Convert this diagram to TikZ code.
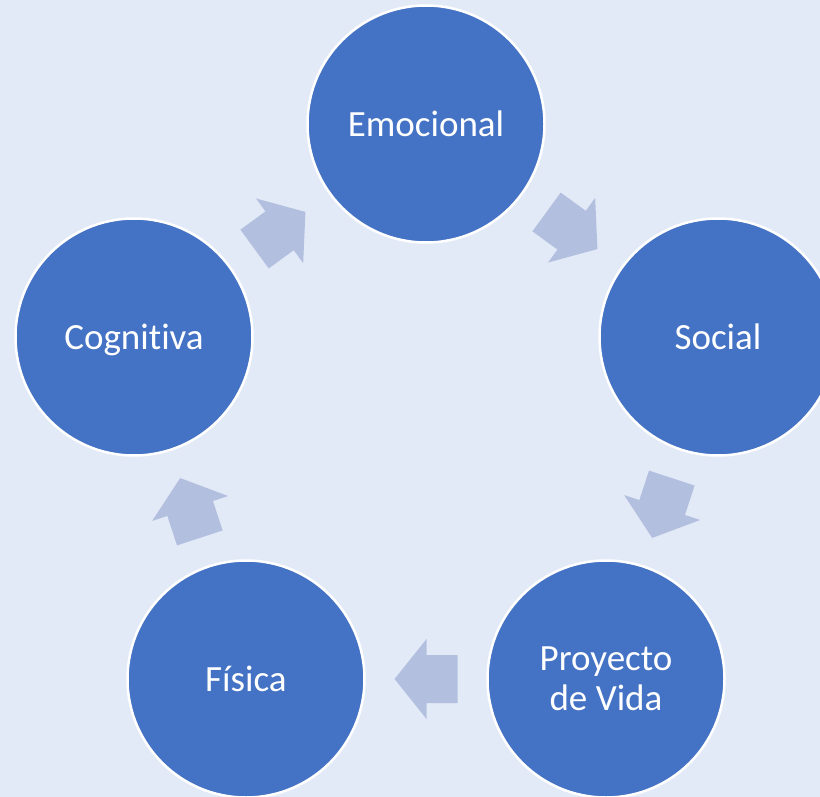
\documentclass[tikz,border=0pt]{standalone}
\usepackage{fontspec}
\setmainfont{Carlito}[Ligatures={NoCommon,NoContextual}, Contextuals=NoAlternate]
\definecolor{fondo}{RGB}{227,234,247}
\definecolor{azul}{RGB}{68,114,196}
\definecolor{flechaazul}{RGB}{178,191,223}
\begin{document}
\begin{tikzpicture}[x=1pt, y=-1pt,
                    area/.style={circle, draw=white, line width=2.5pt, fill=azul, minimum size=237pt, inner sep=0pt,
                                 text=white, font=\fontsize{37}{40}\selectfont, align=center},
                    flecha/.pic={\fill[flechaazul] (-31.5,-24) -- (-0.5,-24) -- (-0.5,-40) -- (31.5,0)
                                 -- (-0.5,40) -- (-0.5,24) -- (-31.5,24) -- cycle;}]
                    \fill[fondo] (0,0) rectangle (820,797);
                    \useasboundingbox (0,0) rectangle (820,797);
                    \node[area] (emo) at (426,124) {Emocional};
                    \node[area] (soc) at (718,337) {Social};
                    \node[area] (pro) at (606,679) {Proyecto\\de Vida};
                    \node[area] (fis) at (246,679) {Física};
                    \node[area, text depth=0pt] (cog) at (134,337) {Cogni\kern0pt tiva};
                    \path (emo) -- (soc) pic[midway, sloped, allow upside down] (f1) {flecha};
                    \path (soc) -- (pro) pic[midway, sloped, allow upside down] (f2) {flecha};
                    \path (pro) -- (fis) pic[midway, sloped, allow upside down] (f3) {flecha};
                    \path (fis) -- (cog) pic[midway, sloped, allow upside down] (f4) {flecha};
                    \path (cog) -- (emo) pic[midway, sloped, allow upside down] (f5) {flecha};
                \end{tikzpicture}
\end{document}
